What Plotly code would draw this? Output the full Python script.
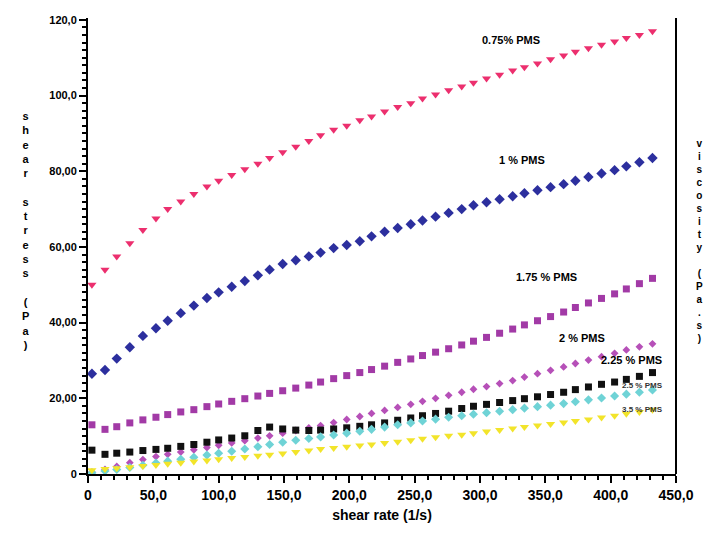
import plotly.graph_objects as go

shear_rate = [3, 13, 22, 32, 42, 52, 61, 71, 81, 91, 100, 110, 120, 130, 139, 149, 159, 169, 178, 188,
              198, 208, 217, 227, 237, 247, 256, 266, 276, 286, 295, 305, 315, 325, 334, 344, 354, 364,
              373, 383, 393, 403, 412, 422, 432]

pink_vals = [50.0, 54.0, 57.5, 61.0, 64.5, 67.5, 70.0, 72.0, 74.0, 76.0, 77.5, 79.0, 80.5, 82.0, 83.5,
             85.0, 86.5, 88.0, 89.5, 91.0, 92.0, 93.5, 94.5, 95.8, 97.0, 98.0, 99.2, 100.3, 101.4, 102.4,
             103.4, 104.5, 105.5, 106.6, 107.5, 108.5, 109.6, 110.6, 111.6, 112.5, 113.4, 114.3, 115.2,
             116.0, 117.0]
blue_vals = [26.5, 27.5, 30.5, 33.5, 36.5, 38.5, 40.5, 42.5, 44.5, 46.5, 48.0, 49.5, 51.0, 52.5, 54.0,
             55.5, 56.5, 57.5, 58.5, 59.7, 60.5, 61.5, 62.8, 64.0, 65.0, 66.0, 67.0, 68.0, 69.0, 70.0,
             71.0, 71.8, 72.6, 73.4, 74.2, 75.0, 75.8, 76.6, 77.5, 78.5, 79.4, 80.3, 81.3, 82.4, 83.5]
purple_vals = [13.0, 11.8, 12.5, 13.5, 14.3, 15.0, 15.7, 16.4, 17.0, 17.8, 18.5, 19.2, 19.9, 20.6, 21.3,
               22.0, 22.7, 23.5, 24.3, 25.2, 26.0, 26.8, 27.6, 28.5, 29.5, 30.4, 31.3, 32.2, 33.1, 34.1,
               35.1, 36.1, 37.2, 38.3, 39.4, 40.5, 41.6, 42.8, 44.0, 45.2, 46.4, 47.6, 48.9, 50.3, 51.7]
violet_vals = [0.5, 1.2, 2.0, 3.0, 3.8, 4.6, 5.2, 5.8, 6.4, 7.0, 7.6, 8.2, 8.8, 9.5, 10.1, 10.8, 11.5,
               12.2, 12.8, 13.6, 14.4, 15.2, 16.0, 16.8, 17.6, 18.4, 19.2, 20.0, 20.8, 21.6, 22.4, 23.1,
               23.9, 24.7, 25.6, 26.5, 27.4, 28.3, 29.2, 30.1, 31.0, 31.9, 32.8, 33.6, 34.4]
black_vals = [6.3, 5.2, 5.5, 5.8, 6.2, 6.5, 6.8, 7.3, 7.8, 8.4, 9.0, 9.5, 10.1, 11.5, 12.4, 11.9, 11.6,
              11.5, 11.6, 11.9, 12.2, 12.6, 13.0, 13.5, 14.2, 14.8, 15.4, 16.0, 16.6, 17.3, 17.9, 18.4,
              18.9, 19.4, 19.9, 20.4, 21.0, 21.6, 22.3, 23.0, 23.7, 24.3, 25.0, 25.8, 26.8]
cyan_vals = [0.3, 0.8, 1.2, 1.7, 2.3, 2.9, 3.4, 3.9, 4.4, 5.0, 5.5, 6.0, 6.6, 7.2, 7.8, 8.4, 8.9, 9.4,
             9.8, 10.3, 10.8, 11.3, 11.8, 12.4, 13.0, 13.5, 14.0, 14.5, 15.0, 15.4, 15.8, 16.2, 16.6,
             17.0, 17.4, 17.8, 18.2, 18.6, 19.1, 19.6, 20.1, 20.6, 21.1, 21.6, 22.2]
yellow_vals = [1.0, 1.3, 1.5, 1.8, 2.1, 2.4, 2.7, 3.0, 3.3, 3.6, 3.9, 4.2, 4.5, 4.8, 5.1, 5.4, 5.8, 6.2,
               6.6, 6.9, 7.2, 7.5, 7.8, 8.2, 8.5, 8.9, 9.3, 9.7, 10.1, 10.4, 10.8, 11.2, 11.6, 12.0,
               12.4, 12.8, 13.2, 13.6, 14.0, 14.4, 14.9, 15.4, 15.9, 16.4, 17.0]

series_names = ["0.75% PMS", "1 % PMS", "1.75 % PMS", "2 % PMS", "2.25 % PMS", "2.5 % PMS", "3.5 % PMS"]

x_tickraw = ["50", "100", "150", "200", "250", "300", "350", "400", "450"]
x_ticktext = ["50,0", "100,0", "150,0", "200,0", "250,0", "300,0", "350,0", "400,0", "450,0"]
y_tickraw = ["20", "40", "60", "80", "100", "120"]
y_ticktext = ["20,00", "40,00", "60,00", "80,00", "100,0", "120,0"]

label_x = [324, 332, 351, 378, 416, 424, 424]
label_y = [114.7, 83, 52, 36, 30, 23.5, 17]

styles = [
    (pink_vals, "#ec2f6e", "triangle-down", 8),
    (blue_vals, "#2c2f9e", "diamond", 8),
    (purple_vals, "#a23aa6", "square", 7),
    (violet_vals, "#b650b8", "diamond", 6),
    (black_vals, "#111111", "square", 7),
    (cyan_vals, "#6fd3d6", "diamond", 7),
    (yellow_vals, "#f2e42a", "triangle-down", 8),
]

fig = go.Figure()
for (vals, col, sym, sz), name in zip(styles, series_names):
    fig.add_trace(go.Scatter(x=shear_rate, y=vals, mode="markers", name=name,
                             marker=dict(color=col, symbol=sym, size=sz, line=dict(width=0))))

for i, (name, lx, ly) in enumerate(zip(series_names, label_x, label_y)):
    small = i >= 5
    fig.add_annotation(x=lx, y=ly, text=name, showarrow=False, xref="x", yref="y",
                       font=dict(family="Liberation Sans", size=8 if small else 11,
                                 color="#333333" if small else "#000000", weight="bold"))

fig.add_annotation(x=-0.115, y=0.535, xref="paper", yref="paper", showarrow=False,
                   text="<br>".join(list("shear stress (Pa)")),
                   font=dict(family="Liberation Sans", size=11, color="#000000", weight="bold"))
fig.add_annotation(x=1.03, y=0.51, xref="paper", yref="paper", showarrow=False, xanchor="left",
                   text="<br>".join(list("viscosity (Pa.s)")),
                   font=dict(family="Liberation Sans", size=10, color="#000000", weight="bold"))

fig.add_shape(type="line", xref="paper", yref="paper", x0=1, x1=1, y0=0, y1=1.0,
              line=dict(color="#000000", width=2))

fig.update_layout(
    width=706, height=537,
    margin=dict(l=88, r=28, t=18, b=63),
    plot_bgcolor="white", paper_bgcolor="white",
    showlegend=False,
    xaxis=dict(range=[0, 450], tickmode="linear", tick0=0, dtick=50,
               labelalias=dict(zip(x_tickraw, x_ticktext)),
               showgrid=False, zeroline=False, showline=True, linecolor="black", linewidth=2,
               ticks="outside", ticklen=7, tickwidth=2, tickcolor="black",
               minor=dict(ticks="outside", ticklen=4, dtick=10, tick0=0,
                          tickcolor="black", tickwidth=1.5, showgrid=False),
               tickfont=dict(family="Liberation Sans", size=14, color="black", weight="bold"),
               title=dict(text="shear rate (1/s)", standoff=8,
                          font=dict(family="Liberation Sans", size=14, color="black", weight="bold"))),
    yaxis=dict(range=[0, 120.5], tickmode="linear", tick0=0, dtick=20,
               labelalias=dict(zip(y_tickraw, y_ticktext)),
               showgrid=False, zeroline=False, showline=True, linecolor="black", linewidth=2,
               ticks="outside", ticklen=7, tickwidth=2, tickcolor="black",
               minor=dict(ticks="outside", ticklen=4, dtick=2, tick0=0,
                          tickcolor="black", tickwidth=1.5, showgrid=False),
               tickfont=dict(family="Liberation Sans", size=11, color="black", weight="bold")),
)

fig.write_html("out.html")
